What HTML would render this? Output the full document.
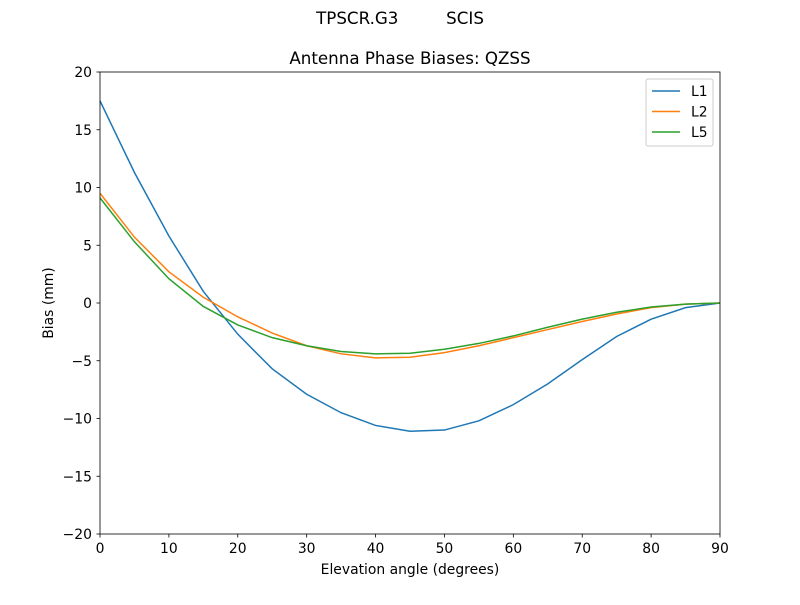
<!DOCTYPE html>
<html><head><meta charset="utf-8"><style>
body{margin:0;background:#fff;}
svg text{font-family:"DejaVu Sans","Liberation Sans",sans-serif;fill:#000;}
</style></head><body>
<svg id="chart" width="800" height="600" xmlns="http://www.w3.org/2000/svg">
<rect width="800" height="600" fill="#fff"/>
<text x="400" y="24" font-size="16.7" text-anchor="middle" xml:space="preserve">TPSCR.G3         SCIS</text>
<text x="410" y="64" font-size="16.7" text-anchor="middle">Antenna Phase Biases: QZSS</text>
<g id="axes"></g>
<g id="lines"></g>
<rect x="100" y="72" width="620" height="462" fill="none" stroke="#000" stroke-width="0.8"/>
<text x="410" y="574" font-size="13.9" text-anchor="middle">Elevation angle (degrees)</text>
<text x="0" y="0" font-size="13.9" text-anchor="middle" transform="translate(53,303) rotate(-90)">Bias (mm)</text>
<g id="legend">
<rect x="646" y="79" width="67" height="67" rx="2" fill="#fff" fill-opacity="0.8" stroke="#ccc"/>
</g>
</svg>
<script>
const elev=[0,5,10,15,20,25,30,35,40,45,50,55,60,65,70,75,80,85,90];
const l1=[17.5,11.3,5.8,1.0,-2.7,-5.7,-7.9,-9.5,-10.6,-11.1,-11.0,-10.2,-8.8,-7.0,-4.9,-2.9,-1.4,-0.4,0];
const l2=[9.5,5.7,2.7,0.5,-1.2,-2.6,-3.7,-4.4,-4.75,-4.7,-4.3,-3.7,-3.0,-2.3,-1.6,-0.95,-0.4,-0.1,0];
const l5=[9.1,5.3,2.1,-0.3,-1.9,-3.0,-3.7,-4.2,-4.4,-4.35,-4.0,-3.5,-2.85,-2.1,-1.4,-0.8,-0.35,-0.1,0];
const xTicks=[0,10,20,30,40,50,60,70,80,90];
const yTicks=[-20,-15,-10,-5,0,5,10,15,20];
const NS="http://www.w3.org/2000/svg";
const X=v=>100+v/90*620, Y=v=>534-(v+20)/40*462;
function mk(t,a,p){const e=document.createElementNS(NS,t);for(const k in a)e.setAttribute(k,a[k]);p.appendChild(e);return e;}
const ax=document.getElementById('axes');
xTicks.forEach(v=>{
 const l=mk('line',{x1:X(v),x2:X(v),y1:534,y2:537.5,stroke:'#000','stroke-width':0.8},ax);
 
 
 const t=mk('text',{x:X(v),y:553,'font-size':13.9,'text-anchor':'middle'},ax);t.textContent=v;
 
 
});
yTicks.forEach(v=>{
 const l=mk('line',{x1:96.5,x2:100,y1:Y(v),y2:Y(v),stroke:'#000','stroke-width':0.8},ax);
 
 
 const t=mk('text',{x:92,y:Y(v)+5,'font-size':13.9,'text-anchor':'end'},ax);t.textContent=v<0?'\u2212'+(-v):v;
 
 
});
const series=[['L1',l1,'#1f77b4'],['L2',l2,'#ff7f0e'],['L5',l5,'#2ca02c']];
const lg=document.getElementById('lines'), leg=document.getElementById('legend');
series.forEach(([n,d,c],i)=>{
 const p=mk('polyline',{points:elev.map((e,j)=>X(e)+','+Y(d[j])).join(' '),fill:'none',stroke:c,'stroke-width':1.5},lg);
 
 
 const yy=91+i*20.5;
 const ll=mk('line',{x1:652,x2:680,y1:yy,y2:yy,stroke:c,'stroke-width':1.5},leg);
 
 
 const t=mk('text',{x:691,y:yy+5,'font-size':13.9},leg);t.textContent=n;
 
 
});
</script>
</body></html>
